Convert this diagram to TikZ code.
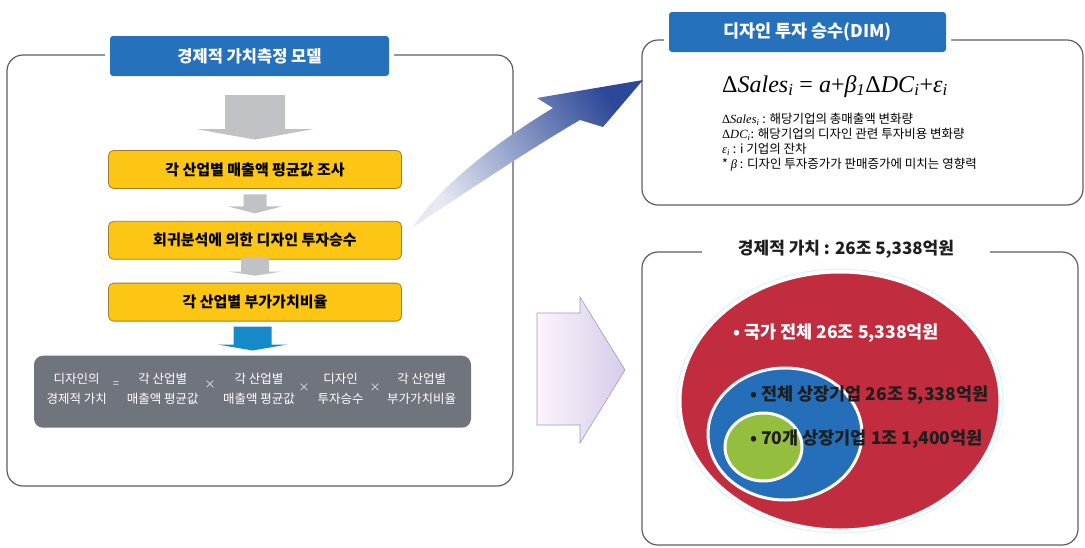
\documentclass[tikz,border=0pt]{standalone}
\usepackage{fontspec}
\setmainfont{Noto Sans CJK KR}
\newfontfamily\timesf{Liberation Serif}
\usetikzlibrary{positioning,calc}
\definecolor{FrameGray}{RGB}{90, 94, 100}
\definecolor{TitleBlue}{RGB}{38, 113, 188}
\definecolor{StepYellow}{RGB}{253, 198, 20}
\definecolor{StepEdge}{RGB}{160, 125, 40}
\definecolor{ArrowGray}{RGB}{192, 194, 198}
\definecolor{ArrowBlue}{RGB}{22, 138, 200}
\definecolor{ValueGray}{RGB}{112, 116, 124}
\definecolor{NationRed}{RGB}{193, 44, 62}
\definecolor{ListedBlue}{RGB}{36, 110, 186}
\definecolor{TopGreen}{RGB}{148, 190, 62}
\definecolor{CurveBlue}{RGB}{45, 72, 152}
\definecolor{ArrowPink}{RGB}{252, 244, 250}
\definecolor{ArrowLilac}{RGB}{214, 204, 234}
\definecolor{ArrowEdge}{RGB}{160, 150, 205}
\definecolor{TextDark}{RGB}{30, 30, 30}

% block arrow pointing down onto a node
\newcommand{\blockarrow}[7]{%
  \fill[#1] ($(#2.north)+(0,-#3)$) -- ++(#5,-#6) -- ++(#4-#5,0) -- ++(0,-#7)
    -- ++(-2*#4,0) -- ++(0,#7) -- ++(#4-#5,0) -- cycle;}

\begin{document}
\begin{tikzpicture}[x=1pt, y=-1pt,
  panel/.style={draw=FrameGray, line width=1.2pt, rounded corners=16pt, inner sep=0pt},
  titlebox/.style={fill=TitleBlue, rounded corners=3pt, text=white, preaction={draw=white, line width=10pt}},
  stepbox/.style={fill=StepYellow, draw=StepEdge, line width=0.8pt, rounded corners=5pt,
    minimum width=293pt, minimum height=38pt, font=\fontsize{15}{17}\selectfont\bfseries},
  valtext/.style={text=white, align=center, inner sep=0pt, font=\fontsize{12.5}{20}\selectfont},
  optext/.style={text=white!85!gray, inner sep=0pt, font=\fontsize{11}{12}\selectfont},
  circletext/.style={anchor=west, inner sep=0pt, font=\fontsize{17.5}{19}\selectfont\bfseries}]
  \useasboundingbox (0,0) rectangle (1085,547);

  % Measurement model
  \node[panel, minimum width=506pt, minimum height=431pt] (model) at (260,270.5) {};
  \node[titlebox, minimum width=279pt, minimum height=40pt, font=\fontsize{16.5}{19}\selectfont\bfseries] (modeltitle) at (249.5,56) {경제적 가치측정 모델};

  \node[stepbox] (s1) at (255,169.5) {각 산업별 매출액 평균값 조사};
  \node[stepbox, below=32pt of s1] (s2) {회귀분석에 의한 디자인 투자승수};
  \node[stepbox, below=23pt of s2] (s3) {각 산업별 부가가치비율};
  \node[fill=ValueGray, rounded corners=9pt, minimum width=437pt, minimum height=72pt,
    below=34pt of s3, xshift=-2.5pt] (product) {};

  \blockarrow{ArrowGray}{s1}{10.5}{30}{58.5}{10.5}{34}
  \blockarrow{ArrowGray}{s2}{7.5}{11.5}{27}{7}{12}
  \blockarrow{ArrowGray}{s3}{7}{14}{26}{4}{14}
  \blockarrow{ArrowBlue}{product}{5}{19}{35}{6}{18}

  % Formula in words
  \node[valtext] (lhs) at (76.7,389) {디자인의\\경제적 가치};
  \node[optext] (eq) at (116,385) {=};
  \node[valtext] (f1) at (162.7,389) {각 산업별\\매출액 평균값};
  \node[optext] (x1) at (210,385) {×};
  \node[valtext] (f2) at (259,389) {각 산업별\\매출액 평균값};
  \node[optext] (x2) at (304,388) {×};
  \node[valtext] (f3) at (340.7,389) {디자인\\투자승수};
  \node[optext] (x3) at (375,388) {×};
  \node[valtext] (f4) at (421.7,389) {각 산업별\\부가가치비율};

  % Curved arrow to DIM
  \coordinate (curvetail) at (413,227);
  \coordinate (curvetip) at (643,80);
  \shade[top color=CurveBlue, bottom color=CurveBlue!12, shading angle=-57]
    (curvetail) .. controls (440,185) and (500,140) .. (553,108) -- (537,98) -- (curvetip)
    -- (603,127) -- (580,120) .. controls (520,155) and (455,200) .. (curvetail) -- cycle;

  % Design investment multiplier
  \node[panel, minimum width=441pt, minimum height=165pt] (dim) at (862.5,122.5) {};
  \node[titlebox, minimum width=277pt, minimum height=40pt, font=\fontsize{17.5}{20}\selectfont\bfseries] (dimtitle) at (807.5,32) {디자인 투자 승수(DIM)};
  \node[anchor=base west, inner sep=0pt, font=\timesf\fontsize{24}{26}\selectfont] (dimeq) at (722,92)
    {Δ\textit{Sales}\textsubscript{\textit{i}} = \textit{a}+\textit{β}\textsubscript{\textit{1}}Δ\textit{DC}\textsubscript{\textit{i}}+\textit{ε}\textsubscript{\textit{i}}};
  \node[anchor=north west, align=left, inner sep=0pt, font=\fontsize{12.5}{15}\selectfont] (dimnote) at (722,113)
    {{\timesf Δ\textit{Sales}\textsubscript{\textit{i}}} : 해당기업의 총매출액 변화량\\
     {\timesf Δ\textit{DC}\textsubscript{\textit{i}}}: 해당기업의 디자인 관련 투자비용 변화량\\
     {\timesf\textit{ε}\textsubscript{\textit{i}}} : i 기업의 잔차\\
     * {\timesf\textit{β}} : 디자인 투자증가가 판매증가에 미치는 영향력};

  % Purple arrow to value
  \coordinate (valarrow) at (537,313);
  \shade[left color=ArrowPink, right color=ArrowLilac, draw=ArrowEdge, line width=0.6pt]
    (valarrow) -- ++(43,0) -- ++(0,-16) -- ++(45,73) -- ++(-45,73) -- ++(0,-18) -- ++(-43,0) -- cycle;

  % Economic value
  \node[panel, minimum width=436pt, minimum height=293pt] (value) at (860,398.5) {};
  \draw[cyan!15, line width=1pt] (840,401) ellipse [x radius=163, y radius=132];
  \filldraw[fill=NationRed, draw=white, line width=3pt] (840,401) ellipse [x radius=160, y radius=129];
  \filldraw[fill=ListedBlue, draw=white, line width=3pt] (785,434) ellipse [x radius=77, y radius=66];
  \filldraw[fill=TopGreen, draw=white, line width=3pt] (763.5,447) ellipse [x radius=38.5, y radius=34];
  \node[fill=white, inner xsep=36pt, inner ysep=2pt, text=TextDark, font=\fontsize{17}{19}\selectfont\bfseries] (valtitle) at (846,249) {경제적 가치 : 26조 5,338억원};
  \node[circletext, text=white] (nation) at (733,333) {• 국가 전체 26조 5,338억원};
  \node[circletext, text=TextDark] (listed) at (750,395) {• 전체 상장기업 26조 5,338억원};
  \node[circletext, text=TextDark] (top70) at (750,439) {• 70개 상장기업 1조 1,400억원};
\end{tikzpicture}
\end{document}
